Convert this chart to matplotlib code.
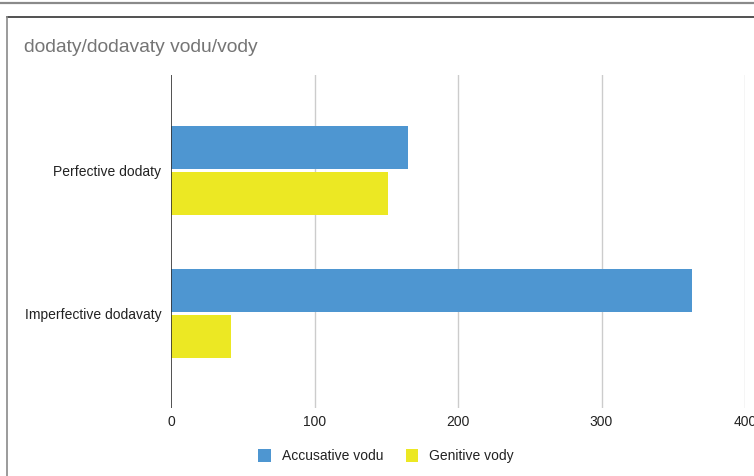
import matplotlib
matplotlib.use("Agg")
import matplotlib.pyplot as plt
from matplotlib.lines import Line2D
from matplotlib.patches import Patch
import numpy as np

plt.rcParams['font.family'] = ['Liberation Sans', 'DejaVu Sans']

categories = ["Perfective dodaty", "Imperfective dodavaty"]
series_names = ["Accusative vodu", "Genitive vody"]
accusative = [165, 363]
genitive = [151, 42]
x_ticks = [0, 100, 200, 300, 400]
title = "dodaty/dodavaty vodu/vody"

colors = ["#4E96D1", "#ECE823"]

W, H = 754, 476
fig = plt.figure(figsize=(W / 100, H / 100), dpi=100)

# outer frame lines
fig.add_artist(Line2D([0, 1], [1 - 2.5 / H, 1 - 2.5 / H], color="#8a8a8a", lw=1.6))
fig.add_artist(Line2D([7 / W, 1], [1 - 17 / H, 1 - 17 / H], color="#333333", lw=1.2))
fig.add_artist(Line2D([7 / W, 7 / W], [0, 1 - 17 / H], color="#8a8a8a", lw=1.2))

fig.text(24 / W, 1 - 48 / H, title, fontsize=13.9, color="#757575",
         ha="left", va="center")

left, right = 171 / W, 745 / W
top, bottom = 1 - 75 / H, 1 - 408 / H
ax = fig.add_axes([left, bottom, right - left, top - bottom])

y = np.arange(len(categories))
h = 0.30
ax.barh(y - 0.159, accusative, height=h, color=colors[0], zorder=3,
        label=series_names[0])
ax.barh(y + 0.161, genitive, height=h, color=colors[1], zorder=3,
        label=series_names[1])

ax.set_xlim(0, 400)
ax.set_ylim(1.661, -0.668)
ax.set_xticks(x_ticks)
ax.set_xticklabels([str(t) for t in x_ticks])
ax.set_yticks(y)
ax.set_yticklabels(categories)

for t in x_ticks[1:]:
    ax.axvline(t, color="#cccccc", lw=1.0, zorder=1)
ax.axvline(0, color="#333333", lw=1.2, zorder=4)

for s in ax.spines.values():
    s.set_visible(False)
ax.tick_params(axis="both", length=0, labelsize=10, colors="#222222")
ax.tick_params(axis="x", pad=5)
ax.tick_params(axis="y", pad=7)

handles = [Patch(facecolor=c, edgecolor="none") for c in colors]
fig.legend(handles, series_names, loc="center", ncol=2,
           bbox_to_anchor=(386 / W, 1 - 456 / H), frameon=False,
           fontsize=10, handlelength=0.9, handleheight=1.1,
           handletextpad=0.8, columnspacing=1.6, labelcolor="#222222")

fig.savefig("out.png", dpi=100, facecolor="white")
